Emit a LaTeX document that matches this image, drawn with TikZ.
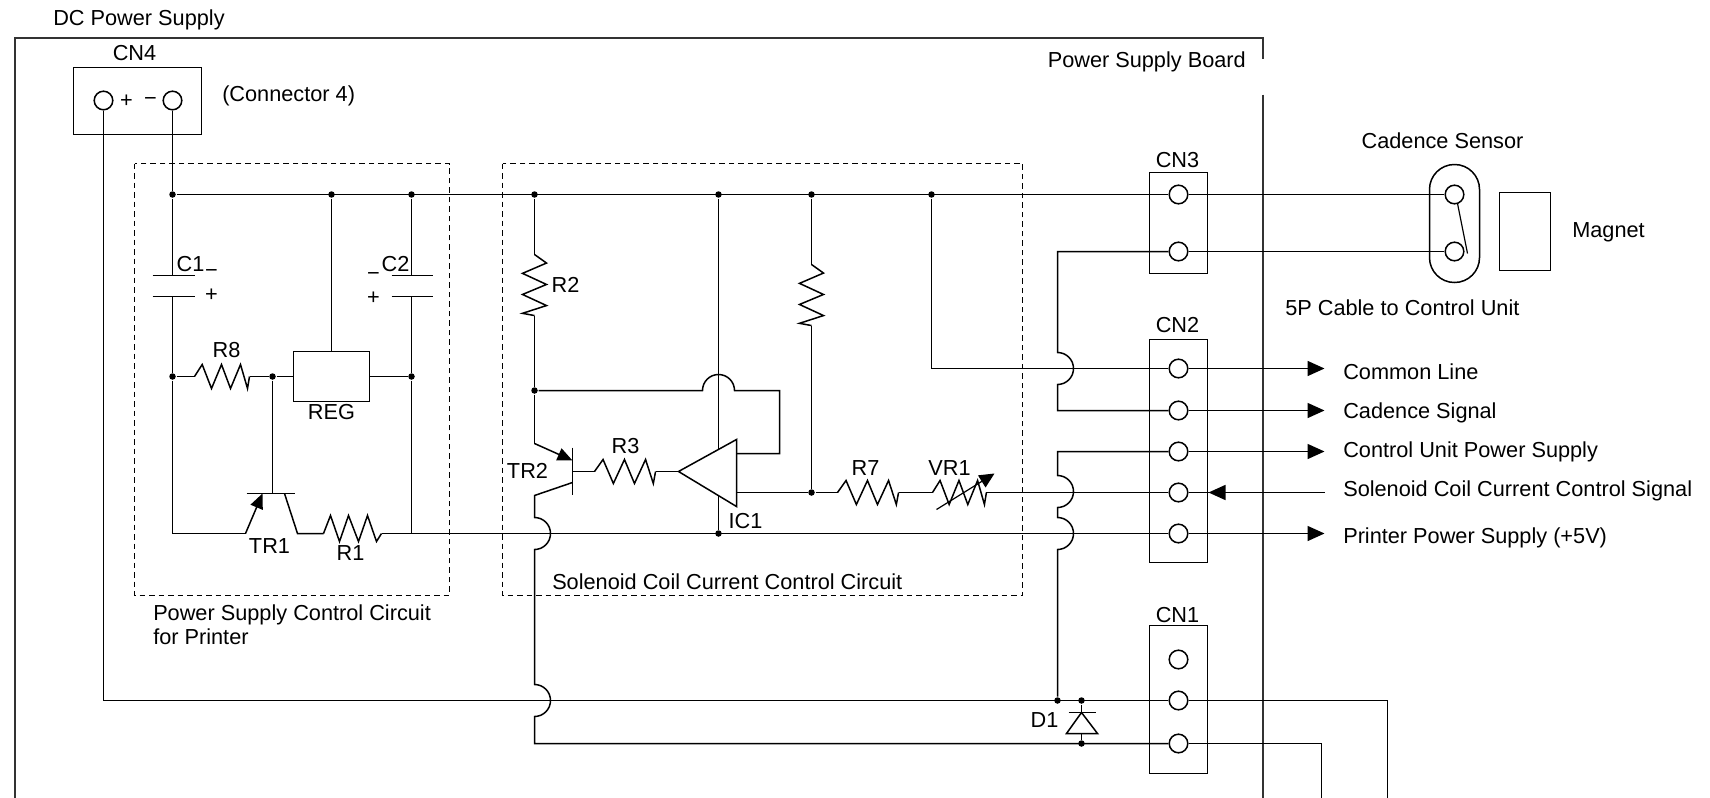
\documentclass[tikz,border=0pt]{standalone}
\usepackage{fontspec}
\setmainfont{Liberation Sans}
\usetikzlibrary{arrows.meta}

\begin{document}
\begin{tikzpicture}[
        x=1bp, y=-1bp,
        line width=1.5bp,
        font=\fontsize{21.8}{24}\selectfont,
        txt/.style={inner sep=0pt, yshift=0.8bp},
        pin/.style={circle, draw, fill=white, inner sep=0pt, minimum size=18.6bp},
        dot/.style={circle, fill, inner sep=0pt, minimum size=6.5bp},
        conn/.style={draw, inner sep=0pt},
        frameline/.style={black!80, line width=2bp},
        dashbox/.style={dashed, dash pattern=on 5.5bp off 4bp, line width=1.2bp},
        outarrow/.style={-{Triangle[length=17bp, width=15bp]}},
        smallarrow/.style={-{Triangle[length=15bp, width=13bp]}},
        resistor/.pic={
            \coordinate (-in) at (0,0);
            \coordinate (-out) at (55,0);
            \draw (0,0) -- (7.7,-12) -- (17,12) -- (27,-12) -- (36,12) -- (46,-12) -- (53,12) -- (55,0);
        },
        resistorlow/.pic={
            \coordinate (-in) at (0,0);
            \coordinate (-out) at (58,0);
            \draw (0,0) -- (7,-18) -- (16,8) -- (25,-18) -- (35,8) -- (44,-18) -- (53,8) -- (58,0);
        }
    ]
        \useasboundingbox (-0.5,-0.5) rectangle (1709.5,797.5);

        % --- Frame of the board ---
        \coordinate (FrameBL) at (14,798);
        \coordinate (FrameTL) at (14,38);
        \coordinate (FrameTR) at (1262,38);
        \coordinate (FrameGapA) at (1262,59);
        \coordinate (FrameGapB) at (1262,94);
        \coordinate (FrameBR) at (1262,798);
        \draw[frameline] (FrameBL) -- (FrameTL) -- (FrameTR) -- (FrameGapA);
        \draw[frameline] (FrameGapB) -- (FrameBR);

        % --- Dashed circuit blocks ---
        \draw[dashbox] (134,163) rectangle (449,595);
        \draw[dashbox] (502,163) rectangle (1022,595);

        % --- Connector boxes ---
        \node[conn, minimum width=128bp, minimum height=67bp] (CN4) at (137,100.5) {};
        \node[conn, minimum width=58bp, minimum height=101bp] (CN3) at (1178,222.5) {};
        \node[conn, minimum width=58bp, minimum height=223bp] (CN2) at (1178,450.5) {};
        \node[conn, minimum width=58bp, minimum height=148bp] (CN1) at (1178,699) {};

        % --- Sensor and magnet ---
        \node[conn, rounded corners=24.9bp, minimum width=50bp, minimum height=118bp] (Sensor) at (1454,223) {};
        \node[conn, minimum width=51bp, minimum height=78bp] (Magnet) at (1524.5,231) {};

        % --- Regulator ---
        \node[conn, minimum width=76bp, minimum height=50bp] (REG) at (331,376) {};

        % --- Connector pins ---
        \node[pin] (CN4P) at (103,100) {};
        \node[pin] (CN4M) at (172,100) {};
        \node[pin] (CN3A) at (1178,194) {};
        \node[pin] (CN3B) at (1178,251) {};
        \node[pin] (CN2A) at (1178,368) {};
        \node[pin] (CN2B) at (1178,410) {};
        \node[pin] (CN2C) at (1178,451) {};
        \node[pin] (CN2D) at (1178,492) {};
        \node[pin] (CN2E) at (1178,533) {};
        \node[pin] (CN1A) at (1178,659) {};
        \node[pin] (CN1B) at (1178,700) {};
        \node[pin] (CN1C) at (1178,743) {};
        \node[pin] (SensorA) at (1454,194) {};
        \node[pin] (SensorB) at (1454,251) {};

        % --- Junctions ---
        \node[dot] (RailA) at (172,194) {};
        \node[dot] (RailB) at (331,194) {};
        \node[dot] (RailC) at (411,194) {};
        \node[dot] (RailD) at (534,194) {};
        \node[dot] (RailE) at (718,194) {};
        \node[dot] (RailF) at (811,194) {};
        \node[dot] (RailG) at (931,194) {};
        \node[dot] (JunC1) at (172,376) {};
        \node[dot] (JunBase) at (272,376) {};
        \node[dot] (JunC2) at (411,376) {};
        \node[dot] (JunFb) at (534,390) {};
        \node[dot] (JunIC) at (718,533) {};
        \node[dot] (JunOut) at (811,492) {};
        \node[dot] (JunDA) at (1057,700) {};
        \node[dot] (JunDB) at (1081,700) {};
        \node[dot] (JunDC) at (1081,743) {};

        % --- Resistors ---
        \pic (R8) at (194,376) {resistor};
        \pic (R1) at (323,533) {resistorlow};
        \pic[xscale=1.11] (R3) at (594,471) {resistor};
        \pic[xscale=1.11] (R7) at (837,492) {resistor};
        \pic[xscale=0.98] (VR1) at (932,492) {resistor};
        \pic[rotate=-90, xscale=1.11] (R2) at (534,254) {resistor};
        \pic[rotate=-90, xscale=1.11] (R9) at (811,264) {resistor};

        % --- Supply rail ---
        \draw (CN4M) -- (RailA) -- (CN3A);
        \draw (CN3A) -- (SensorA);
        \draw (CN3B) -- (SensorB);
        \coordinate (SwitchA) at (1457,203);
        \coordinate (SwitchB) at (1467,253);
        \draw[line width=1.2bp] (SwitchA) -- (SwitchB);

        % --- Capacitors and regulator ---
        \coordinate (C1Top) at (172,275);
        \coordinate (C1Bot) at (172,296);
        \coordinate (C2Top) at (411,275);
        \coordinate (C2Bot) at (411,296);
        \coordinate (TR1Corner) at (172,533);
        \coordinate (TR1Foot) at (245,533);
        \coordinate (TR1Tip) at (262,493);
        \coordinate (TR1Bar) at (272,493);
        \coordinate (TR1BarL) at (246,493);
        \coordinate (TR1BarR) at (294,493);
        \coordinate (TR1Col) at (284,493);
        \coordinate (TR1ColEnd) at (297,533);
        \coordinate (JoinC2) at (411,533);
        \draw (RailA) -- (C1Top);
        \draw (152,275) -- (194,275);
        \draw (152,296) -- (194,296);
        \draw (C1Bot) -- (JunC1) -- (TR1Corner) -- (TR1Foot);
        \draw[smallarrow] (TR1Foot) -- (TR1Tip);
        \draw (TR1BarL) -- (TR1BarR);
        \draw (JunBase) -- (TR1Bar);
        \draw (TR1Col) -- (TR1ColEnd) -- (R1-in);
        \draw (RailB) -- (REG);
        \draw (RailC) -- (C2Top);
        \draw (391,275) -- (432,275);
        \draw (391,296) -- (432,296);
        \draw (C2Bot) -- (JunC2) -- (JoinC2);
        \draw (JunC1) -- (R8-in);
        \draw (R8-out) -- (JunBase) -- (REG);
        \draw (REG) -- (JunC2);

        % --- Printer supply line ---
        \draw (R1-out) -- (CN2E);
        \draw[outarrow] (CN2E) -- (1324,533);

        % --- Transistor TR2 and IC1 ---
        \coordinate (TR2Emit) at (534,443);
        \coordinate (TR2Tip) at (572,460);
        \coordinate (TR2BarT) at (572,447);
        \coordinate (TR2BarB) at (572,494);
        \coordinate (TR2Base) at (572,471);
        \coordinate (TR2ColA) at (572,482);
        \coordinate (TR2ColB) at (534,495);
        \coordinate (HopA) at (534,517);
        \coordinate (HopB) at (534,684);
        \coordinate (TR2End) at (534,743);
        \coordinate (ICTip) at (678,471);
        \coordinate (ICTop) at (736,439);
        \coordinate (ICBot) at (736,506);
        \coordinate (ICFb) at (736,453);
        \coordinate (ICOut) at (736,492);
        \coordinate (FbHop) at (702,390);
        \coordinate (FbCorner) at (779,390);
        \draw (RailD) -- (R2-in);
        \draw (R2-out) -- (JunFb) -- (TR2Emit);
        \draw[smallarrow] (TR2Emit) -- (TR2Tip);
        \draw (TR2BarT) -- (TR2BarB);
        \draw (TR2Base) -- (R3-in);
        \draw (R3-out) -- (ICTip);
        \draw (TR2ColA) -- (TR2ColB) -- (HopA) arc[start angle=90, end angle=-90, radius=16bp] -- (HopB) arc[start angle=90, end angle=-90, radius=16bp] -- (TR2End) -- (CN1C);
        \draw (RailE) -- (JunIC);
        \draw (JunFb) -- (FbHop) arc[start angle=180, end angle=0, radius=16bp] -- (FbCorner) |- (ICFb);
        \draw[fill=white] (ICTip) -- (ICTop) -- (ICBot) -- cycle;
        \draw (RailF) -- (R9-in);
        \draw (R9-out) -- (JunOut);
        \draw (ICOut) -- (JunOut) -- (R7-in);
        \draw (R7-out) -- (VR1-in);
        \coordinate (VRStart) at (936,509);
        \coordinate (VREnd) at (994,473);
        \draw[-{Triangle[length=15bp, width=14bp]}, line width=1.2bp] (VRStart) -- (VREnd);
        \draw (VR1-out) -- (CN2D);

        % --- Lines to connector CN2 ---
        \coordinate (HopC) at (1057,352);
        \coordinate (HopD) at (1057,475);
        \coordinate (HopE) at (1057,517);
        \coordinate (CN3Corner) at (1057,251);
        \coordinate (CN2BCorner) at (1057,410);
        \coordinate (CN2CCorner) at (1057,451);
        \draw (RailG) |- (CN2A);
        \draw (CN3B) -- (CN3Corner) -- (HopC) arc[start angle=90, end angle=-90, radius=16bp] -- (CN2BCorner) -- (CN2B);
        \draw (CN2C) -- (CN2CCorner) -- (HopD) arc[start angle=90, end angle=-90, radius=16bp] -- (HopE) arc[start angle=90, end angle=-90, radius=16bp] -- (JunDA);
        \draw[outarrow] (CN2A) -- (1324,368);
        \draw[outarrow] (CN2B) -- (1324,410);
        \draw[outarrow] (CN2C) -- (1324,451);
        \coordinate (SigEnd) at (1324,492);
        \coordinate (SigTip) at (1208,492);
        \draw[outarrow] (SigEnd) -- (SigTip);
        \draw (SigTip) -- (CN2D);

        % --- Power lines and diode ---
        \coordinate (CableA) at (1387,798);
        \coordinate (CableB) at (1321,798);
        \draw (CN4P) |- (CN1B);
        \draw (CN1B) -| (CableA);
        \draw (CN1C) -| (CableB);
        \draw (JunDB) -- (JunDC);
        \draw (1068,712) -- (1095,712);
        \draw[fill=white] (1081,712) -- (1066,733) -- (1097,733) -- cycle;

        % --- Texts ---
        \node[txt, anchor=west] (LblDC) at (52,20) {DC Power Supply};
        \node[txt] (LblCN4) at (134,53) {CN4};
        \node[txt] (LblPlus) at (126,102) {+};
        \node[txt] (LblMinus) at (150,102) {−};
        \node[txt, anchor=west] (LblConn) at (221,96) {(Connector 4)};
        \node[txt, anchor=east] (LblBoard) at (1246,62) {Power Supply Board};
        \node[txt] (LblC1) at (190,264) {C1};
        \node[txt] (LblC1M) at (211,274) {−};
        \node[txt] (LblC1P) at (211,296) {+};
        \node[txt] (LblC2) at (395,264) {C2};
        \node[txt] (LblC2M) at (373,277) {−};
        \node[txt] (LblC2P) at (373,299) {+};
        \node[txt] (LblR8) at (226,350) {R8};
        \node[txt] (LblREG) at (331,412) {REG};
        \node[txt] (LblTR1) at (269,546) {TR1};
        \node[txt] (LblR1) at (350,553) {R1};
        \node[txt] (LblR2) at (565,285) {R2};
        \node[txt] (LblR3) at (625,446) {R3};
        \node[txt] (LblTR2) at (527,471) {TR2};
        \node[txt] (LblR7) at (865,468) {R7};
        \node[txt] (LblVR1) at (949,468) {VR1};
        \node[txt] (LblIC1) at (745,521) {IC1};
        \node[txt] (LblD1) at (1044,720) {D1};
        \node[txt, anchor=west] (LblSol) at (551,582) {Solenoid Coil Current Control Circuit};
        \node[txt, anchor=north west, align=left] (LblPrn) at (152,604) {Power Supply Control Circuit\\for Printer};
        \node[txt] (LblCN3) at (1177,160) {CN3};
        \node[txt] (LblCN2) at (1177,325) {CN2};
        \node[txt] (LblCN1) at (1177,615) {CN1};
        \node[txt] (LblSensor) at (1442,141) {Cadence Sensor};
        \node[txt, anchor=west] (LblMagnet) at (1571,233) {Magnet};
        \node[txt, anchor=west] (LblCable) at (1284,308) {5P Cable to Control Unit};
        \node[txt, anchor=west] (LblCommon) at (1342,372) {Common Line};
        \node[txt, anchor=west] (LblCadence) at (1342,413) {Cadence Signal};
        \node[txt, anchor=west] (LblCtrl) at (1342,452) {Control Unit Power Supply};
        \node[txt, anchor=west] (LblSig) at (1342,491) {Solenoid Coil Current Control Signal};
        \node[txt, anchor=west] (LblPrnPow) at (1342,538) {Printer Power Supply (+5V)};
    \end{tikzpicture}
\end{document}
